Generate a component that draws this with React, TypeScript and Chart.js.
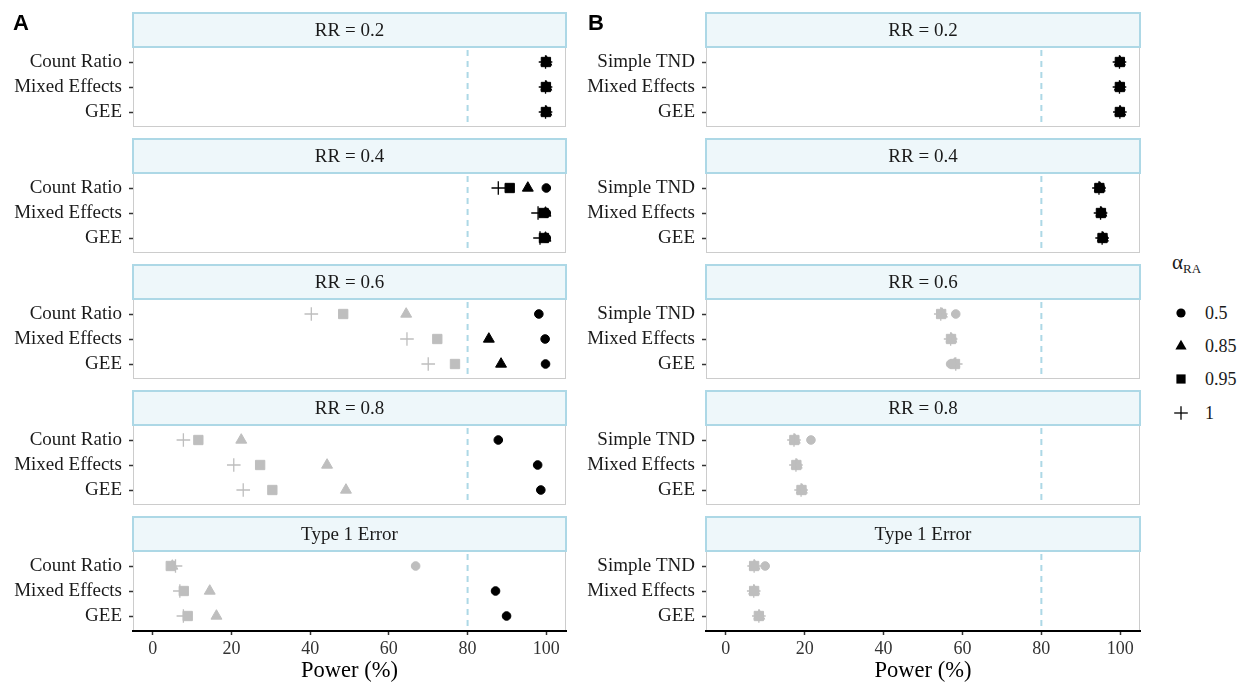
import React, { useEffect, useRef } from "react";
import { Chart, registerables } from "chart.js";

Chart.register(...registerables);

// ---------- data ----------
const facetTitles = ["RR = 0.2", "RR = 0.4", "RR = 0.6", "RR = 0.8", "Type 1 Error"];
const methodsA = ["Count Ratio", "Mixed Effects", "GEE"];
const methodsB = ["Simple TND", "Mixed Effects", "GEE"];
const alphaLabels = ["0.5", "0.85", "0.95", "1"];
const xTickValues = [0, 20, 40, 60, 80, 100];
const powerThreshold = 80;

// rows: facets (RR 0.2, 0.4, 0.6, 0.8, Type 1 Error); columns: methods
const panelA_alpha050 = [[100, 100, 100], [100, 100, 100], [98.1, 99.7, 99.8], [87.8, 97.8, 98.6], [66.8, 87.1, 89.9]];
const panelA_alpha085 = [[100, 100, 100], [95.3, 99.8, 99.8], [64.4, 85.4, 88.5], [22.5, 44.3, 49.1], [5.0, 14.5, 16.2]];
const panelA_alpha095 = [[99.9, 99.9, 99.9], [90.7, 99.3, 99.4], [48.4, 72.3, 76.8], [11.6, 27.3, 30.4], [4.6, 7.9, 8.9]];
const panelA_alpha100 = [[99.8, 99.8, 99.8], [87.8, 97.9, 98.4], [40.3, 64.6, 70.0], [7.8, 20.6, 23.0], [5.8, 6.9, 7.8]];

const panelB_alpha050 = [[100, 100, 100], [95.0, 95.3, 95.7], [58.3, 57.3, 57.0], [21.6, 18.0, 19.3], [10.0, 7.3, 8.5]];
const panelB_alpha085 = [[99.9, 99.9, 100], [94.8, 95.2, 95.6], [54.8, 57.2, 58.0], [17.5, 18.0, 19.3], [7.3, 7.2, 8.5]];
const panelB_alpha095 = [[99.9, 99.9, 99.9], [94.7, 95.1, 95.5], [54.6, 57.1, 58.1], [17.4, 17.9, 19.2], [7.2, 7.2, 8.4]];
const panelB_alpha100 = [[99.8, 99.8, 99.9], [94.6, 95.0, 95.4], [54.5, 57.0, 58.3], [17.3, 17.8, 19.1], [7.2, 7.1, 8.4]];

const seriesA = [panelA_alpha050, panelA_alpha085, panelA_alpha095, panelA_alpha100];
const seriesB = [panelB_alpha050, panelB_alpha085, panelB_alpha095, panelB_alpha100];

// ---------- styles ----------
const SERIF = "'Liberation Serif', 'Times New Roman', Times, serif";
const SANS = "'Liberation Sans', Arial, Helvetica, sans-serif";
const STRIP_H = 34;
const PANEL_H = 80;
const FACET_STEP = 126;
const FIRST_STRIP_TOP = 13;
const PAD_TOP = 3;
const X_AXIS_H = 52;

const shapeFor = ["circle", "triangle", "rect", "cross"];
const radiusFor = [4.3, 6.3, 6.6, 6.8];

const panels = [
  { key: "A", methods: methodsA, series: seriesA, canvasLeft: 0, canvasWidth: 575, yWidth: 133, padRight: 9, letterLeft: 13 },
  { key: "B", methods: methodsB, series: seriesB, canvasLeft: 575, canvasWidth: 575, yWidth: 131, padRight: 10, letterLeft: 588 },
];

const facetDecor = {
  id: "facetDecor",
  beforeDraw(chart: any, _args: any, opts: any) {
    const { ctx, chartArea: a, scales } = chart;
    ctx.save();
    ctx.fillStyle = "#FFFFFF";
    ctx.fillRect(a.left, a.top, a.width, a.height);
    // reference line at 80%
    const xv = scales.x.getPixelForValue(opts.vline);
    ctx.strokeStyle = "#ADD8E6";
    ctx.lineWidth = 2;
    ctx.setLineDash([6, 5]);
    ctx.beginPath();
    ctx.moveTo(xv, a.top + 3);
    ctx.lineTo(xv, a.bottom);
    ctx.stroke();
    ctx.setLineDash([]);
    // panel border
    ctx.strokeStyle = "#CCCCCC";
    ctx.lineWidth = 1;
    ctx.strokeRect(a.left + 0.5, a.top + 0.5, a.width - 1, a.height - 1);
    // strip
    const sTop = a.top - opts.stripHeight;
    ctx.fillStyle = "#EEF7FA";
    ctx.fillRect(a.left, sTop, a.width, opts.stripHeight);
    ctx.strokeStyle = "#ADD8E6";
    ctx.lineWidth = 2;
    ctx.strokeRect(a.left, sTop, a.width, opts.stripHeight);
    ctx.fillStyle = "#1A1A1A";
    ctx.font = `19px ${SERIF}`;
    ctx.textAlign = "center";
    ctx.textBaseline = "middle";
    ctx.fillText(opts.title, (a.left + a.right) / 2, sTop + opts.stripHeight / 2 + 1);
    ctx.restore();
  },
};

function Facet({ panel, facet }: { panel: any; facet: number }) {
  const ref = useRef<HTMLCanvasElement>(null);
  const isBottom = facet === facetTitles.length - 1;
  const stripTop = FIRST_STRIP_TOP + FACET_STEP * facet;
  const canvasTop = stripTop - PAD_TOP;
  const height = isBottom ? 683 - canvasTop : PAD_TOP + STRIP_H + PANEL_H + 3;

  useEffect(() => {
    const methods: string[] = panel.methods;
    const datasets = [3, 2, 1, 0].map((k) => {
      const vals: number[] = panel.series[k][facet];
      const cols = vals.map((v) => (v >= powerThreshold ? "#000000" : "#BEBEBE"));
      return {
        label: alphaLabels[k],
        data: vals.map((v, j) => ({ x: v, y: j })),
        pointStyle: shapeFor[k],
        pointRadius: radiusFor[k],
        pointHoverRadius: radiusFor[k],
        pointBackgroundColor: cols,
        pointBorderColor: cols,
        pointBorderWidth: k === 3 ? 1.3 : 1,
      };
    });
    const chart = new Chart(ref.current as HTMLCanvasElement, {
      type: "scatter",
      data: { datasets } as any,
      plugins: [facetDecor as any],
      options: {
        responsive: false,
        animation: false,
        devicePixelRatio: 1,
        events: [],
        layout: {
          autoPadding: false,
          padding: { top: PAD_TOP + STRIP_H, bottom: isBottom ? 0 : 3, left: 0, right: panel.padRight },
        },
        plugins: {
          legend: { display: false },
          tooltip: { enabled: false },
          facetDecor: { title: facetTitles[facet], stripHeight: STRIP_H, vline: powerThreshold },
        } as any,
        scales: {
          x: {
            type: "linear",
            min: -5,
            max: 105,
            bounds: "data",
            display: isBottom,
            afterBuildTicks: (s: any) => {
              s.ticks = xTickValues.map((v) => ({ value: v }));
            },
            afterFit: (s: any) => {
              if (isBottom) s.height = X_AXIS_H;
              s.paddingLeft = 0;
              s.paddingRight = 0;
            },
            grid: { drawOnChartArea: false, drawTicks: true, tickLength: 4, tickColor: "#333333", tickWidth: 1.5, color: "#333333" },
            border: { display: true, color: "#000000", width: 2 },
            ticks: {
              color: "#333333",
              font: { family: SERIF, size: 18 },
              padding: 3,
              maxRotation: 0,
              autoSkip: false,
              callback: (v: any) => String(v),
            },
            title: {
              display: true,
              text: "Power (%)",
              color: "#000000",
              font: { family: SERIF, size: 22.5, lineHeight: 1 },
              padding: { top: 0, bottom: 1 },
            },
          },
          y: {
            type: "linear",
            min: -0.6,
            max: 2.6,
            reverse: true,
            bounds: "data",
            afterBuildTicks: (s: any) => {
              s.ticks = methods.map((_, i) => ({ value: i }));
            },
            afterFit: (s: any) => {
              s.width = panel.yWidth;
              s.paddingTop = 0;
              s.paddingBottom = 0;
            },
            grid: { drawOnChartArea: false, drawTicks: true, tickLength: 4, tickColor: "#333333", tickWidth: 1.5, color: "#333333" },
            border: { display: false },
            ticks: {
              color: "#1A1A1A",
              font: { family: SERIF, size: 19 },
              padding: 7,
              autoSkip: false,
              callback: (v: any) => methods[v] ?? "",
            },
          },
        } as any,
      },
    });
    return () => chart.destroy();
  }, []);

  return (
    <canvas
      ref={ref}
      width={panel.canvasWidth}
      height={height}
      style={{ position: "absolute", left: panel.canvasLeft, top: canvasTop, width: panel.canvasWidth, height }}
    />
  );
}

function LegendSymbol({ shape }: { shape: string }) {
  let el: any = null;
  if (shape === "circle") el = <circle cx={9} cy={9} r={4.6} fill="#000" />;
  else if (shape === "triangle") el = <polygon points="9,2.8 14.6,12.4 3.4,12.4" fill="#000" />;
  else if (shape === "rect") el = <rect x={4.4} y={4.4} width={9.2} height={9.2} fill="#000" />;
  else
    el = (
      <g stroke="#000" strokeWidth={1.3}>
        <line x1={2.2} y1={9} x2={15.8} y2={9} />
        <line x1={9} y1={2.2} x2={9} y2={15.8} />
      </g>
    );
  return (
    <svg width={18} height={18} style={{ position: "absolute", left: 0, top: 0 }}>
      {el}
    </svg>
  );
}

const legendRowY = [313, 346, 379, 413];

export default function App() {
  return (
    <div style={{ position: "absolute", left: 0, top: 0, width: 1242, height: 683, background: "#FFFFFF", overflow: "hidden" }}>
      {panels.map((p) => (
        <React.Fragment key={p.key}>
          {facetTitles.map((_, f) => (
            <Facet key={f} panel={p} facet={f} />
          ))}
          <div
            style={{
              position: "absolute",
              left: p.letterLeft,
              top: 12,
              font: `bold 22px ${SANS}`,
              lineHeight: "22px",
              color: "#000",
            }}
          >
            {p.key}
          </div>
        </React.Fragment>
      ))}
      <div style={{ position: "absolute", left: 1172, top: 252, font: `21px ${SERIF}`, lineHeight: "21px", color: "#1A1A1A" }}>
        α<sub style={{ fontSize: 13, verticalAlign: "-4px" }}>RA</sub>
      </div>
      {alphaLabels.map((lab, i) => (
        <div key={lab} style={{ position: "absolute", left: 1172, top: legendRowY[i] - 9, height: 18, width: 70 }}>
          <LegendSymbol shape={shapeFor[i]} />
          <div style={{ position: "absolute", left: 33, top: -1, font: `18px ${SERIF}`, lineHeight: "20px", color: "#1A1A1A" }}>
            {lab}
          </div>
        </div>
      ))}
    </div>
  );
}
